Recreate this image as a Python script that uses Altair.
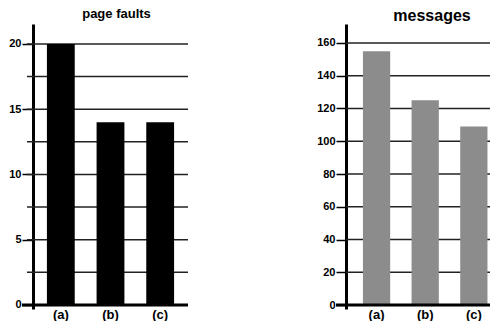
import altair as alt
import pandas as pd

conditions = ["(a)", "(b)", "(c)"]
page_faults = [20, 14, 14]
messages = [155, 125, 109]

pf_ticks = [0, 5, 10, 15, 20]
pf_grid = [2.5, 5, 7.5, 10, 12.5, 15, 17.5, 20]
msg_ticks = [0, 20, 40, 60, 80, 100, 120, 140, 160]
msg_grid = [20, 40, 60, 80, 100, 120, 140, 160]

FONT = "Liberation Sans"
PLOT_H = 285


def panel(title, values, ticks, grid, domain, width, color, tick_size,
          minor_ext, title_size, title_dx, title_offset, x_outer, x_align):
    bars_df = pd.DataFrame({"cond": conditions, "v": values})
    grid_df = pd.DataFrame({"v": grid})
    yscale = alt.Scale(domain=domain, nice=False, zero=False)
    yaxis = alt.Axis(title=None, values=ticks, grid=False,
                     tickSize=tick_size, tickWidth=1.5, tickColor="black",
                     domainWidth=3, domainColor="black",
                     labelFont=FONT, labelFontSize=11, labelFontWeight="bold",
                     labelColor="black", labelPadding=1)

    gridlines = alt.Chart(grid_df).mark_rule(color="#222222", strokeWidth=1.5).encode(
        y=alt.Y("v:Q", scale=yscale, axis=yaxis),
        x=alt.value(minor_ext),
        x2=alt.value(width),
    )

    bars = alt.Chart(bars_df).mark_bar(color=color).encode(
        x=alt.X("cond:N", sort=conditions,
                scale=alt.Scale(paddingInner=0.44, paddingOuter=x_outer, align=x_align),
                axis=alt.Axis(title=None, domain=False, ticks=False, labelAngle=0,
                              labelFont=FONT, labelFontSize=13, labelFontWeight="bold",
                              labelColor="black", labelPadding=-1, grid=False)),
        y=alt.Y("v:Q", scale=yscale, axis=yaxis),
    )

    zero = alt.Chart(pd.DataFrame({"v": [0]})).mark_rule(color="black", strokeWidth=3).encode(
        y=alt.Y("v:Q", scale=yscale, axis=yaxis),
        x=alt.value(-tick_size),
        x2=alt.value(width),
    )

    return alt.layer(gridlines, bars, zero).properties(
        width=width, height=PLOT_H,
        title=alt.TitleParams(title, font=FONT, fontSize=title_size, fontWeight="bold",
                              color="black", dx=title_dx, offset=title_offset,
                              anchor="middle"),
    )


left = panel("page faults", page_faults, pf_ticks, pf_grid, [-0.31, 21.53], 155,
             "#000000", 11, -6, 13, 6, 3, 0.28, 0.5)
right = panel("messages", messages, msg_ticks, msg_grid, [-2.44, 171.6], 144,
              "#8c8c8c", 10, 0, 16, 14, 0, 0.2, 0.87)

chart = alt.hconcat(left, right, spacing=126).properties(
    padding={"left": 0, "top": 0, "right": 0, "bottom": 0}
).configure_view(stroke=None)

chart.save("out.html", embed_options={"renderer": "svg", "actions": False})
